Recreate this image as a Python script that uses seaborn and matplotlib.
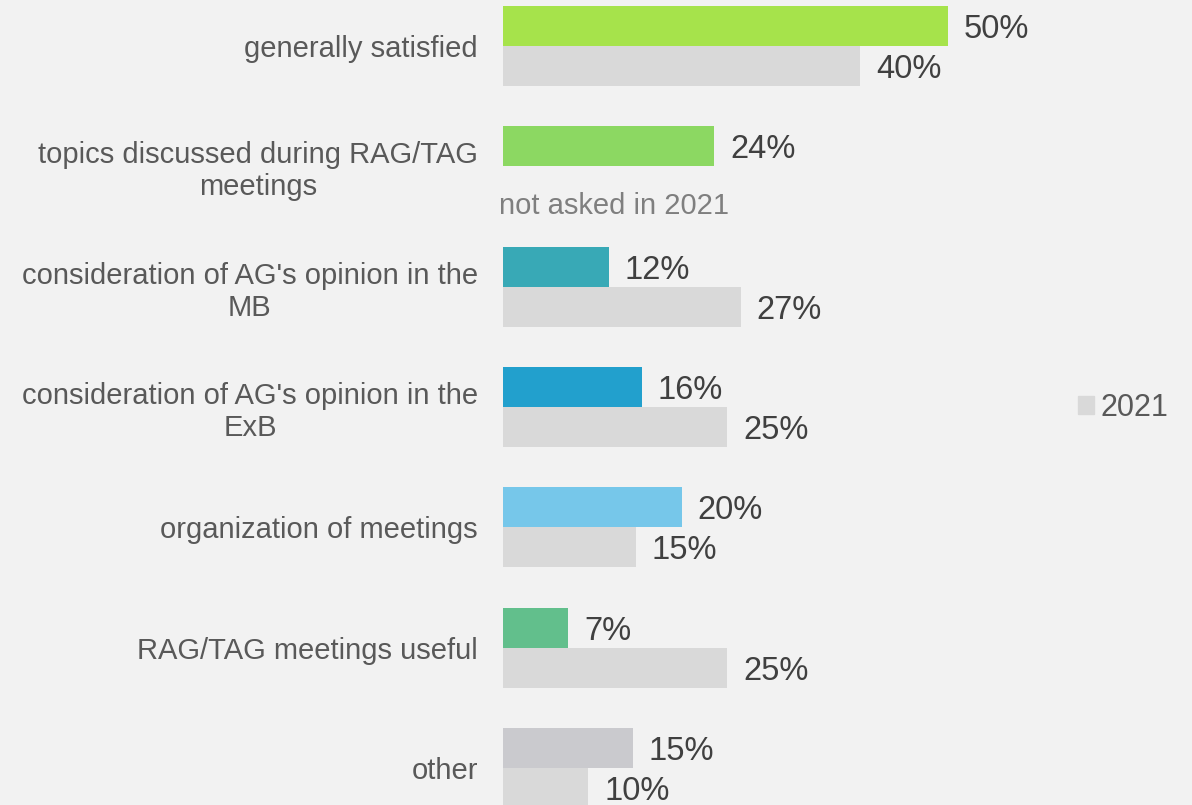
import matplotlib
matplotlib.use("Agg")
import matplotlib.pyplot as plt
import matplotlib.patches as mpatches
import pandas as pd
import seaborn as sns

# Data (labels are rounded to whole percent)
categories = [
    "generally satisfied",
    "topics discussed during RAG/TAG\nmeetings",
    "consideration of AG's opinion in the\nMB",
    "consideration of AG's opinion in the\nExB",
    "organization of meetings",
    "RAG/TAG meetings useful",
    "other",
]
current_values = [50.0, 23.7, 11.9, 15.6, 20.1, 7.3, 14.6]
prev_values = [40.1, None, 26.7, 25.2, 14.9, 25.2, 9.6]
current_label = "2023"
prev_label = "2021"

# Style
bar_colors = ["#a6e34b", "#8cd862", "#38a9b6", "#22a0cd", "#76c7ea", "#62bf8c", "#cacace"]
prev_color = "#d9d9d9"
bg = "#f2f2f2"

sns.set_theme(style="white", rc={"figure.facecolor": bg, "axes.facecolor": bg})
plt.rcParams["font.family"] = ["Liberation Sans", "DejaVu Sans"]

rows = []
for cat, cur, prev in zip(categories, current_values, prev_values):
    rows.append({"category": cat, "year": current_label, "value": cur})
    if prev is not None:
        rows.append({"category": cat, "year": prev_label, "value": prev})
df = pd.DataFrame(rows)

fig = plt.figure(figsize=(11.92, 8.05), dpi=100)
ax = fig.add_axes([503 / 1192, 0, (1060 - 503) / 1192, 1])

sns.barplot(
    data=df, y="category", x="value", hue="year",
    order=categories, hue_order=[current_label, prev_label],
    palette=[bar_colors[0], prev_color], width=0.665, gap=0,
    orient="h", legend=False, ax=ax, saturation=1,
)

# recolor the current-year bars per category
for bar, color in zip(ax.containers[0], bar_colors):
    bar.set_facecolor(color)
    bar.set_edgecolor("none")
for bar in ax.containers[1]:
    bar.set_edgecolor("none")

for cont in ax.containers:
    texts = ax.bar_label(cont, fmt="{:.0f}%", padding=11.5, fontsize=23.5, color="#404040")
    for t in texts:
        t.set_va("center_baseline")

ax.set_xlim(0, 557 / 8.9)
ax.set_ylim(6.309, -0.382)
ax.set_xlabel("")
ax.set_ylabel("")
ax.set_xticks([])
ax.tick_params(axis="y", length=0, pad=18)
ax.set_yticks(range(len(categories)))
ax.set_yticklabels(categories, fontsize=21, color="#595959", multialignment="center", linespacing=1.18)
sns.despine(ax=ax, left=True, bottom=True)

ax.annotate("not asked in 2021", xy=(0, 1.33), xytext=(-3, 0), textcoords="offset points",
            ha="left", va="center", fontsize=21, color="#7f7f7f")

handle = mpatches.Patch(color=prev_color, label=prev_label)
fig.legend(handles=[handle], loc="center left", bbox_to_anchor=(1050 / 1192, 1 - 408 / 805),
           frameon=False, fontsize=22, handlelength=0.55, handleheight=0.55,
           handletextpad=0.2, labelcolor="#595959")

fig.savefig("out.png", dpi=100, facecolor=bg)
